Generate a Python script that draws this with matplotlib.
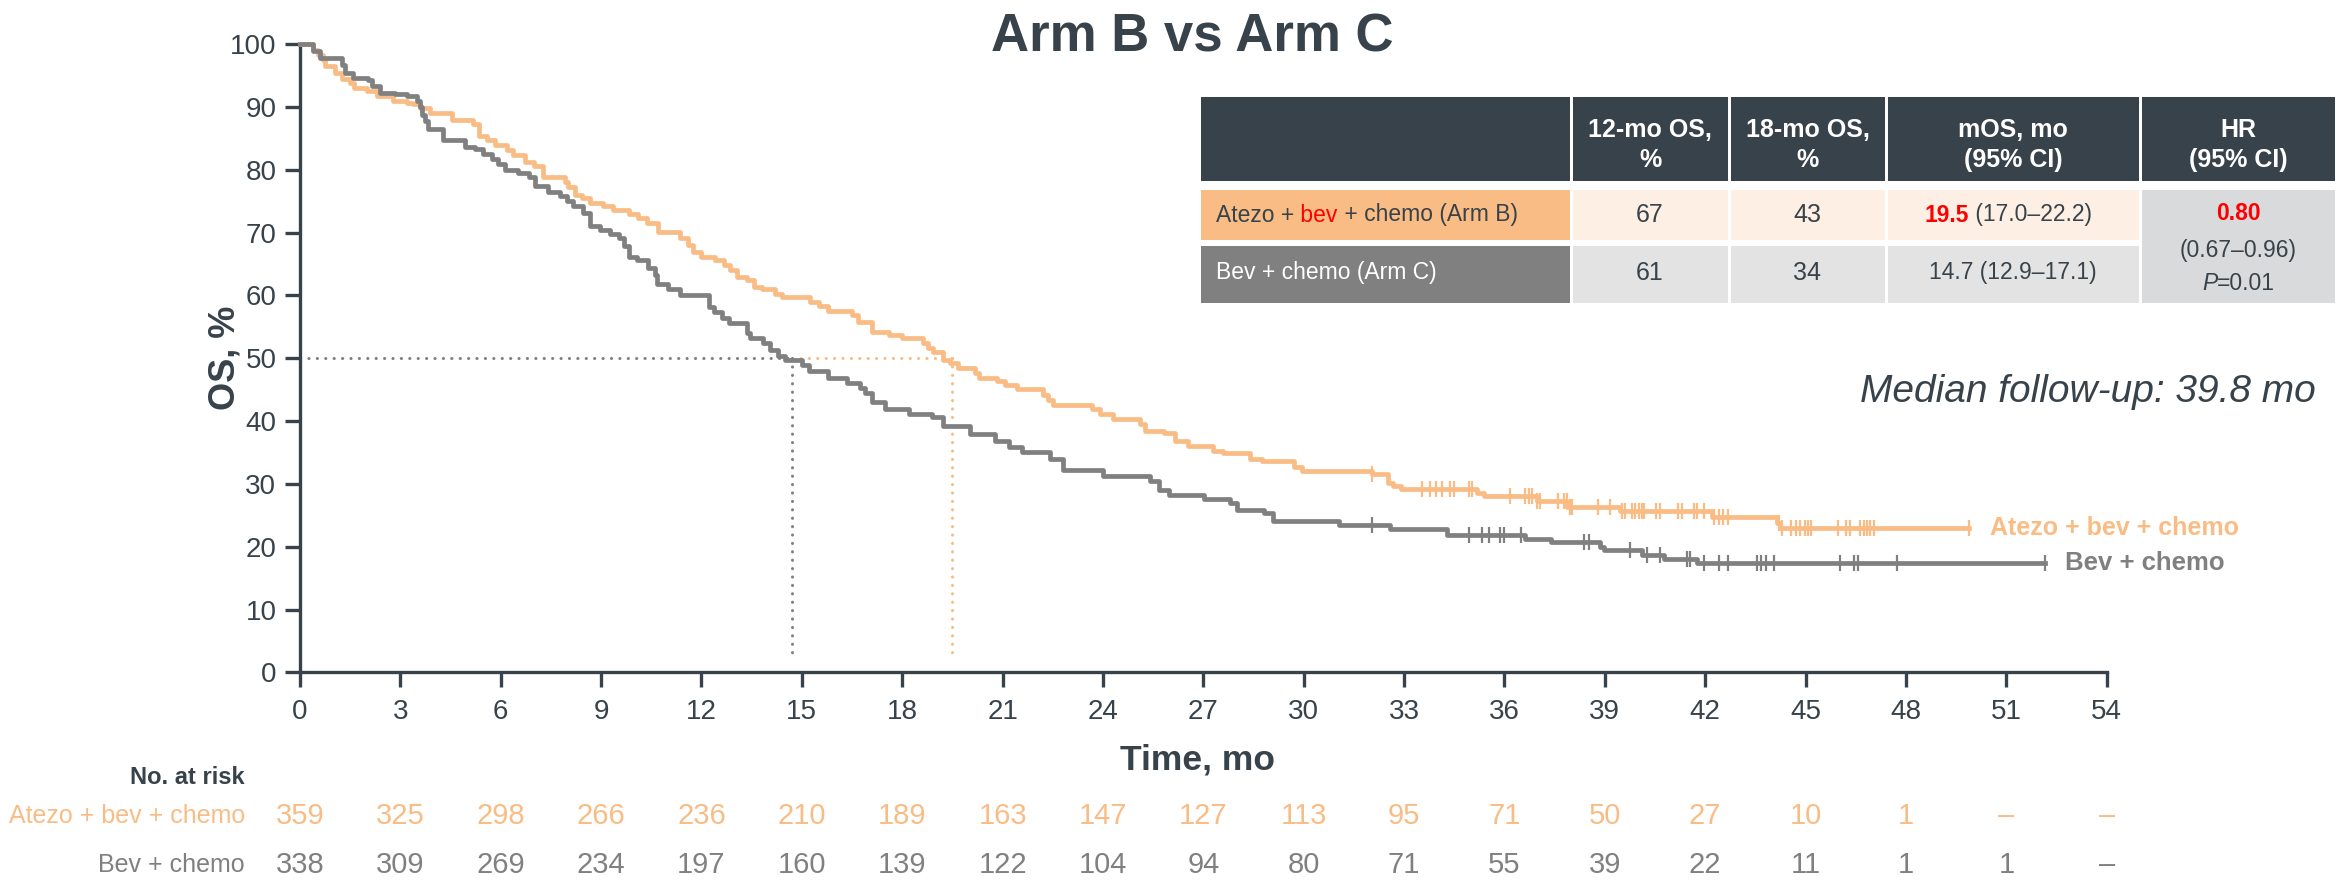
import numpy as np
import matplotlib
matplotlib.use('Agg')
import matplotlib.pyplot as plt
import matplotlib.transforms as mtransforms
from matplotlib.patches import Rectangle

plt.rcParams['font.family'] = ['Liberation Sans', 'DejaVu Sans']

ORANGE = '#F9BC85'
GREY = '#808080'
DARK = '#37424A'
RED = '#FF0000'

# Kaplan-Meier steps: time of each drop (months) and OS % after it
atezo_t = [0.40, 0.55, 0.68, 0.75, 1.05, 1.25, 1.49, 1.61, 1.99, 2.29, 2.79, 3.19, 3.39,
           3.59, 3.89, 4.53, 5.18, 5.36, 5.58, 5.83, 6.18, 6.38, 6.73, 6.98, 7.27, 7.92,
           8.02, 8.22, 8.42, 8.67, 9.07, 9.37, 9.82, 10.11, 10.36, 10.71, 11.36, 11.61,
           11.76, 11.98, 12.41, 12.66, 12.86, 13.05, 13.35, 13.57, 13.80, 14.20, 14.40,
           15.25, 15.50, 15.79, 16.49, 16.69, 17.09, 17.59, 17.99, 18.63, 18.78, 18.93,
           19.23, 19.43, 19.68, 20.18, 20.28, 20.83, 21.08, 21.43, 22.22, 22.37, 22.52,
           23.67, 23.92, 24.31, 25.11, 25.26, 25.81, 26.16, 26.53, 27.30, 27.60, 28.40,
           28.75, 29.70, 29.95, 32.04, 32.51, 32.67, 32.91, 35.18, 35.38, 36.97, 37.88,
           39.46, 42.20, 44.15, 44.25]
atezo_s = [99.1, 98.3, 97.5, 96.5, 95.5, 94.4, 93.8, 93.1, 92.5, 91.7, 91.0, 90.7, 90.5,
           89.8, 89.1, 87.9, 87.3, 85.4, 84.8, 84.0, 83.2, 82.4, 81.3, 80.6, 78.9, 78.1,
           77.3, 76.0, 75.5, 74.8, 74.3, 73.6, 73.0, 72.4, 71.6, 70.1, 69.1, 68.0,
           67.0, 66.2, 65.7, 64.9, 64.1, 63.0, 62.4, 61.4, 61.0, 60.2, 59.7,
           59.0, 58.3, 57.5, 56.9, 55.8, 54.2, 53.7, 53.3, 52.5, 51.7, 51.0,
           49.7, 49.2, 48.4, 47.6, 46.9, 46.4, 45.7, 45.1, 44.2, 43.4, 42.6,
           41.9, 41.1, 40.4, 39.5, 38.5, 38.1, 36.9, 36.1, 35.3, 34.9, 34.0,
           33.6, 32.7, 32.1, 31.6, 30.2, 29.7, 29.2, 28.6, 28.0, 27.3, 26.4,
           25.7, 24.7, 23.8, 22.9]
atezo_last = 49.88
atezo_cens = [32.04, 33.53, 33.78, 33.96, 34.13, 34.36, 34.50, 34.93, 35.03, 36.17, 36.62,
              36.72, 36.82, 36.97, 37.05, 37.59, 37.79, 37.87, 37.95, 38.02, 38.81, 39.14,
              39.51, 39.61, 39.81, 39.91, 40.01, 40.11, 40.18, 40.54, 40.64, 41.18, 41.31,
              41.66, 41.76, 41.96, 42.25, 42.40, 42.53, 42.67, 44.20, 44.30, 44.55, 44.70,
              44.83, 44.97, 45.07, 45.17, 45.96, 46.22, 46.32, 46.64, 46.74, 46.84, 46.94,
              47.04, 49.88]

bev_t = [0.40, 0.60, 1.25, 1.35, 1.59, 2.04, 2.14, 2.39, 2.84, 3.19, 3.49, 3.59, 3.64,
         3.74, 3.84, 4.28, 4.93, 5.23, 5.48, 5.73, 5.93, 6.13, 6.53, 6.83, 7.03, 7.42,
         7.77, 7.97, 8.17, 8.47, 8.67, 8.97, 9.27, 9.52, 9.67, 9.82, 10.06, 10.41, 10.61,
         10.66, 11.01, 11.36, 12.21, 12.36, 12.61, 12.81, 13.35, 13.45, 13.85, 14.05,
         14.30, 14.50, 14.99, 15.20, 15.79, 16.34, 16.74, 16.89, 17.09, 17.49, 18.19,
         18.89, 19.23, 20.03, 20.77, 21.18, 21.57, 22.42, 22.82, 24.00, 25.41, 25.66,
         25.96, 27.01, 27.80, 28.00, 28.80, 29.08, 31.04, 32.59, 34.28, 36.62, 37.40,
         38.86, 38.96, 40.11, 40.76, 41.75]
bev_s = [99.0, 97.8, 96.7, 95.5, 94.7, 94.3, 93.3, 92.3, 92.1, 91.8, 90.9, 90.0, 88.7,
         87.8, 86.5, 84.8, 83.7, 83.4, 82.6, 81.8, 80.9, 80.0, 79.5, 78.9, 77.4, 76.5,
         75.9, 75.1, 74.3, 73.1, 71.0, 70.4, 69.8, 69.1, 67.9, 66.2, 65.7, 64.3, 63.3,
         61.9, 61.1, 60.1, 58.2, 57.3, 56.4, 55.6, 54.1, 53.2, 52.5, 51.3,
         50.3, 49.7, 48.9, 47.9, 46.9, 46.1, 45.3, 44.5, 43.1, 42.0, 41.2,
         40.7, 39.2, 37.9, 36.8, 35.8, 35.0, 34.0, 32.2, 31.3, 30.4, 29.1,
         28.3, 27.6, 26.9, 25.9, 25.3, 24.1, 23.5, 22.8, 21.9, 21.3, 20.8,
         20.0, 19.5, 18.7, 18.0, 17.4]
bev_last = 52.17
bev_cens = [32.04, 34.93, 35.32, 35.55, 35.87, 35.99, 36.49, 38.37, 38.52, 39.74, 40.26,
            40.66, 41.47, 41.55, 41.97, 42.40, 42.67, 43.55, 43.68, 43.82, 44.05, 46.02,
            46.44, 46.56, 47.74, 52.17]

# numbers at risk, every 3 months
risk_times = list(range(0, 55, 3))
atezo_risk = ['359', '325', '298', '266', '236', '210', '189', '163', '147', '127',
              '113', '95', '71', '50', '27', '10', '1', '–', '–']
bev_risk = ['338', '309', '269', '234', '197', '160', '139', '122', '104', '94',
            '80', '71', '55', '39', '22', '11', '1', '1', '–']

# summary table
col_heads = ['12-mo OS,\n%', '18-mo OS,\n%', 'mOS, mo\n(95% CI)', 'HR\n(95% CI)']
os_12 = ['67', '61']
os_18 = ['43', '34']
mos = ['19.5', '14.7']
mos_ci = ['(17.0–22.2)', '(12.9–17.1)']
hr = '0.80'
hr_ci = '(0.67–0.96)'
p_value = '0.01'

W, H = 2346, 883
fig = plt.figure(figsize=(W / 100, H / 100), dpi=100)
ax = fig.add_axes([300 / W, 1 - 672.3 / H, 1806.7 / W, 628 / H])
ov = fig.add_axes([0, 0, 1, 1], zorder=3)
ov.set_xlim(0, W)
ov.set_ylim(H, 0)
ov.axis('off')
ov.patch.set_alpha(0)


def km(ax, t, s, last, cens, color):
    x = np.r_[0, t, last]
    y = np.r_[100, s, s[-1]]
    ax.step(x, y, where='post', color=color, lw=3.4, clip_on=False, zorder=3)
    idx = np.searchsorted(x, cens, side='right') - 1
    ax.plot(cens, y[idx], ls='none', marker='|', ms=11.5, mew=1.6, color=color,
            clip_on=False, zorder=3)


km(ax, atezo_t, atezo_s, atezo_last, atezo_cens, ORANGE)
km(ax, bev_t, bev_s, bev_last, bev_cens, GREY)

# median lines
m_a, m_b = float(mos[0]), float(mos[1])
dot = dict(lw=2.2, ls=(0, (0.05, 2.7)), dash_capstyle='round', zorder=2)
ax.plot([0, m_b], [50, 50], color=GREY, **dot)
ax.plot([m_b, m_a], [50, 50], color=ORANGE, **dot)
ax.plot([m_b, m_b], [50, 2], color=GREY, **dot)
ax.plot([m_a, m_a], [50, 2], color=ORANGE, **dot)

ax.annotate('Atezo + bev + chemo', xy=(atezo_last, atezo_s[-1]), xytext=(15, 0),
            textcoords='offset points', va='center', ha='left', fontsize=18,
            fontweight='bold', color=ORANGE, annotation_clip=False)
ax.annotate('Bev + chemo', xy=(bev_last, bev_s[-1]), xytext=(14, 0),
            textcoords='offset points', va='center', ha='left', fontsize=18.5,
            fontweight='bold', color=GREY, annotation_clip=False)

ax.set_xlim(0, 54)
ax.set_ylim(0, 100)
ax.set_xticks(risk_times)
ax.set_yticks(range(0, 101, 10))
for side in ['top', 'right']:
    ax.spines[side].set_visible(False)
for side in ['left', 'bottom']:
    ax.spines[side].set_color(DARK)
    ax.spines[side].set_linewidth(2.4)
ax.tick_params(direction='out', length=11, width=2.4, color=DARK, labelcolor=DARK,
               labelsize=20)
ax.tick_params(axis='x', pad=8)
ax.tick_params(axis='y', pad=6)
ax.set_xlabel('Time, mo', fontsize=25.5, fontweight='bold', color=DARK, va='center')
ax.xaxis.set_label_coords(0.4965, -0.1397)
ax.set_ylabel('OS, %', fontsize=26, fontweight='bold', color=DARK, va='center')
ax.yaxis.set_label_coords(-0.0415, 0.5)

# risk table
tr = mtransforms.blended_transform_factory(ax.transData, ov.transData)
ov.text(245, 777, 'No. at risk', ha='right', va='center', fontsize=17,
        fontweight='bold', color=DARK)
ov.text(245, 816, 'Atezo + bev + chemo', ha='right', va='center', fontsize=18, color=ORANGE)
ov.text(245, 865, 'Bev + chemo', ha='right', va='center', fontsize=18, color=GREY)
for x, a, b in zip(risk_times, atezo_risk, bev_risk):
    ax.text(x, 816, a, transform=tr, ha='center', va='center', fontsize=21,
            color=ORANGE, clip_on=False)
    ax.text(x, 865, b, transform=tr, ha='center', va='center', fontsize=21,
            color=GREY, clip_on=False)

ov.text(1192, 38, 'Arm B vs Arm C', ha='center', va='center', fontsize=38,
        fontweight='bold', color=DARK)
ov.text(2316, 392, 'Median follow-up: 39.8 mo', ha='right', va='center', fontsize=28,
        style='italic', color=DARK)

# summary table cells
cols = [1199, 1571, 1729, 1886, 2140, 2336]
g = 1.5
for i in range(5):
    ov.add_patch(Rectangle((cols[i] + g, 97), cols[i + 1] - cols[i] - 2 * g, 84,
                           color=DARK, lw=0))
row_y = [(188, 241), (244, 304)]
label_fill = [ORANGE, GREY]
data_fill = ['#FDEFE3', '#E3E3E3']
for r, (y0, y1) in enumerate(row_y):
    ov.add_patch(Rectangle((cols[0] + g, y0 + g), cols[1] - cols[0] - 2 * g, y1 - y0 - 2 * g,
                           color=label_fill[r], lw=0))
    for i in range(1, 4):
        ov.add_patch(Rectangle((cols[i] + g, y0 + g), cols[i + 1] - cols[i] - 2 * g,
                               y1 - y0 - 2 * g, color=data_fill[r], lw=0))
ov.add_patch(Rectangle((cols[4] + g, 188 + g), cols[5] - cols[4] - 2 * g, 116 - 2 * g,
                       color='#D9DADB', lw=0))

centers = [(cols[i] + cols[i + 1]) / 2 for i in range(5)]
for c, head in zip(centers[1:], col_heads):
    ov.text(c, 145, head, ha='center', va='center', fontsize=18, fontweight='bold',
            color='white', linespacing=1.3, multialignment='center')

tsz = 16.5
row_c = [215, 273]
t1 = ov.text(1216, row_c[0], 'Atezo +', va='center', ha='left', fontsize=tsz, color=DARK)
t2 = ov.annotate(' bev', xy=(1, 0), xycoords=t1, va='bottom', fontsize=tsz, color=RED)
ov.annotate(' + chemo (Arm B)', xy=(1, 0), xycoords=t2, va='bottom', fontsize=tsz, color=DARK)
ov.text(1216, row_c[1], 'Bev + chemo (Arm C)', va='center', ha='left', fontsize=tsz,
        color='white')
for r in range(2):
    ov.text(centers[1], row_c[r], os_12[r], ha='center', va='center', fontsize=18, color=DARK)
    ov.text(centers[2], row_c[r], os_18[r], ha='center', va='center', fontsize=18, color=DARK)
m1 = ov.text(1925, row_c[0], mos[0], ha='left', va='center', fontsize=tsz,
             fontweight='bold', color=RED)
ov.annotate(' ' + mos_ci[0], xy=(1, 0), xycoords=m1, va='bottom', fontsize=tsz, color=DARK)
ov.text(centers[3], row_c[1], mos[1] + ' ' + mos_ci[1], ha='center', va='center',
        fontsize=tsz, color=DARK)
ov.text(centers[4], 214, hr, ha='center', va='center', fontsize=tsz, fontweight='bold',
        color=RED)
ov.text(centers[4], 251, hr_ci, ha='center', va='center', fontsize=tsz, color=DARK)
p1 = ov.text(2202, 283, 'P', ha='left', va='center', fontsize=tsz, style='italic', color=DARK)
ov.annotate('=' + p_value, xy=(1, 0), xycoords=p1, va='bottom', fontsize=tsz, color=DARK)

fig.savefig('out.png', dpi=100)
